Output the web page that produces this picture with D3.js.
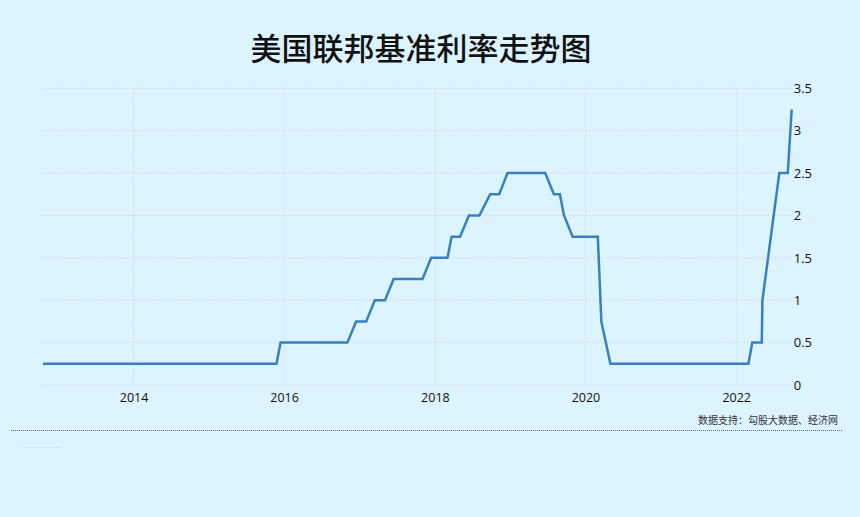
<!DOCTYPE html>
<html>
<head>
<meta charset="utf-8">
<script src="https://cdn.jsdelivr.net/npm/d3@7/dist/d3.min.js"></script>
<style>
  html, body { margin: 0; padding: 0; background: #dcf4ff; }
  svg { display: block; }
</style>
</head>
<body>
<svg id="chart" width="860" height="517"></svg>
<script>
const titleText = "美国联邦基准利率走势图";
const sourceText = "数据支持：勾股大数据、经济网";

const dates = [
  "2012-10-19", "2015-11-25", "2015-12-15", "2016-11-03", "2016-12-15",
  "2017-02-02", "2017-03-16", "2017-05-04", "2017-06-15", "2017-11-02",
  "2017-12-14", "2018-03-03", "2018-03-23", "2018-05-03", "2018-06-15",
  "2018-08-05", "2018-09-26", "2018-11-09", "2018-12-19", "2019-06-20",
  "2019-08-01", "2019-08-30", "2019-09-19", "2019-10-31", "2020-03-01",
  "2020-03-18", "2020-05-01", "2022-03-01", "2022-03-20", "2022-05-05",
  "2022-05-08", "2022-06-18", "2022-07-29", "2022-09-08", "2022-09-27"
];
const rates = [
  0.25, 0.25, 0.5, 0.5, 0.75,
  0.75, 1.0, 1.0, 1.25, 1.25,
  1.5, 1.5, 1.75, 1.75, 2.0,
  2.0, 2.25, 2.25, 2.5, 2.5,
  2.25, 2.25, 2.0, 1.75, 1.75,
  0.75, 0.25, 0.25, 0.5, 0.5,
  1.0, 1.75, 2.5, 2.5, 3.25
];
const xTickYears = [2014, 2016, 2018, 2020, 2022];
const yTicks = [0, 0.5, 1, 1.5, 2, 2.5, 3, 3.5];

(function () {
const parse = d3.timeParse("%Y-%m-%d");
const data = dates.map((d, i) => ({ date: parse(d), value: rates[i] }));

const svg = d3.select("#chart");
const W = 860, H = 517;
const pLeft = 43, pRight = 791.7, pTop = 88.3, pBottom = 385;

svg.append("rect").attr("width", W).attr("height", H).attr("fill", "#dcf4ff");

const x = d3.scaleTime()
  .domain(d3.extent(data, d => d.date))
  .range([pLeft, pRight]);
const y = d3.scaleLinear().domain([0, 3.5]).range([pBottom, pTop]);

const gridColor = "#cfdee6";

// horizontal grid
svg.append("g").selectAll("line").data(yTicks).join("line")
  .attr("x1", pLeft).attr("x2", pRight - 1)
  .attr("y1", d => y(d)).attr("y2", d => y(d))
  .attr("stroke", gridColor).attr("stroke-width", 1)
  .attr("stroke-dasharray", "2,1.5");

// vertical grid
const xTickDates = xTickYears.map(yr => new Date(yr, 0, 1));
svg.append("g").selectAll("line").data(xTickDates).join("line")
  .attr("x1", d => x(d)).attr("x2", d => x(d))
  .attr("y1", pTop).attr("y2", pBottom)
  .attr("stroke", gridColor).attr("stroke-width", 1)
  .attr("stroke-dasharray", "2,1.5");

// x axis
const xAxis = d3.axisBottom(x).tickValues(xTickDates).tickFormat(d3.timeFormat("%Y")).tickSize(0).tickPadding(8);
const gx = svg.append("g").attr("transform", `translate(0,${pBottom})`).call(xAxis);
gx.select(".domain").remove();
gx.selectAll("text").attr("font-family", "'Open Sans', 'DejaVu Sans', sans-serif")
  .attr("font-size", 12.5).attr("fill", "#111");

// y axis (right)
const yAxis = d3.axisRight(y).tickValues(yTicks).tickFormat(d => String(d)).tickSize(0).tickPadding(2);
const gy = svg.append("g").attr("transform", `translate(${pRight},0)`).call(yAxis);
gy.select(".domain").remove();
gy.selectAll("text").attr("font-family", "'Open Sans', 'DejaVu Sans', sans-serif")
  .attr("font-size", 13).attr("fill", "#111");

// line
const line = d3.line().x(d => x(d.date)).y(d => y(d.value));
svg.append("path").datum(data)
  .attr("d", line)
  .attr("fill", "none")
  .attr("stroke", "#3b7fc0")
  .attr("stroke-width", 2.5)
  .attr("stroke-linejoin", "miter");

// title
svg.append("text")
  .attr("x", 421).attr("y", 60)
  .attr("text-anchor", "middle")
  .attr("font-family", "'Noto Sans CJK SC', sans-serif")
  .attr("font-weight", 500)
  .attr("font-size", 31)
  .attr("fill", "#111")
  .text(titleText);

// source
svg.append("text")
  .attr("x", 838).attr("y", 424)
  .attr("text-anchor", "end")
  .attr("font-family", "'Noto Sans CJK SC', sans-serif")
  .attr("font-size", 10)
  .attr("fill", "#333")
  .text(sourceText);

// separator
svg.append("line")
  .attr("x1", 11).attr("x2", 842).attr("y1", 430.5).attr("y2", 430.5)
  .attr("stroke", "#666").attr("stroke-width", 1).attr("stroke-dasharray", "1,1");

svg.append("line")
  .attr("x1", 23).attr("x2", 60).attr("y1", 447.5).attr("y2", 447.5)
  .attr("stroke", "#cfe3ee").attr("stroke-width", 1);
})();
</script>
</body>
</html>
